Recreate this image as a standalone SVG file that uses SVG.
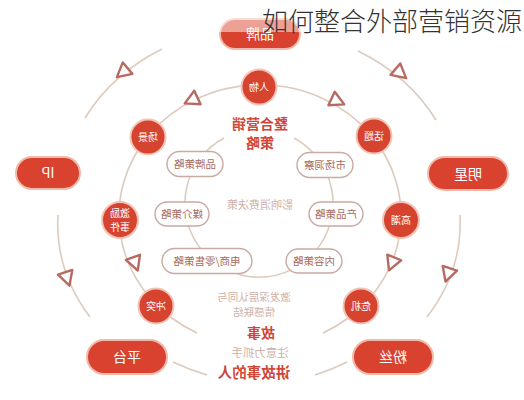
<svg xmlns="http://www.w3.org/2000/svg" width="524" height="400" viewBox="0 0 524 400">
<defs>
<style>
.ring{fill:none;stroke:#ddcbbd;stroke-width:1.6}
.tri{fill:#fff;stroke:#b66a60;stroke-width:2.4;stroke-linejoin:round}
.pill{fill:#d9422f;stroke:#f1b9aa;stroke-width:2}
.dot{fill:#d6432f;stroke:#f2c3b6;stroke-width:2}
.box{fill:#fff;stroke:#c8aaa3;stroke-width:1.4}
text{font-family:"Noto Sans CJK SC","Noto Sans",sans-serif;text-anchor:middle}
.pt{fill:#fff;font-size:14px}
.dt{fill:#fff;font-size:10px}
.bt{fill:#a86a60;font-size:10.5px}
.rt{fill:#d0473a;font-weight:bold}
.gt{fill:#cfb0a8}
.title{fill:#333;font-size:26px;font-weight:300;text-anchor:start}
</style>
<path id="tri" d="M8,0 L-6,-7.5 L-6,7.5 Z"/>
</defs>
<rect width="524" height="400" fill="#fff"/>
<g id="connectors">
<path class="ring" d="M162,49 A201,172 0 0,0 85,118"/>
<path class="ring" d="M358,51 A201,172 0 0,1 436,120"/>
<path class="ring" d="M58,215 A201,172 0 0,0 90,317"/>
<path class="ring" d="M460,215 A201,172 0 0,1 427,317"/>
<path class="ring" d="M173,362 A201,172 0 0,0 207,375"/>
<path class="ring" d="M315,375 A201,172 0 0,0 347,362"/>
<path class="ring" d="M197,333 A141,131 0 1,1 323,333"/>
<path class="ring" d="M224,138 A74,74 0 1,0 294,138"/>
<use href="#tri" class="tri" transform="translate(123,72) rotate(140)"/>
<use href="#tri" class="tri" transform="translate(400,73) rotate(40)"/>
<use href="#tri" class="tri" transform="translate(67,278) rotate(72)"/>
<use href="#tri" class="tri" transform="translate(448,274) rotate(108)"/>
<use href="#tri" class="tri" transform="translate(192,100) rotate(155)"/>
<use href="#tri" class="tri" transform="translate(337,101) rotate(25)"/>
<use href="#tri" class="tri" transform="translate(135,263) rotate(70)"/>
<use href="#tri" class="tri" transform="translate(392,263) rotate(112)"/>
</g>
<g id="center">
<text class="rt" font-size="14" transform="translate(260,129) scale(-1,1)">整合营销</text>
<text class="rt" font-size="14" transform="translate(260,148) scale(-1,1)">策略</text>
<text class="gt" font-size="11" transform="translate(260,209) scale(-1,1)">影响消费决策</text>
</g>
<g id="box-pinpai"><rect class="box" x="167" y="151.5" width="56" height="25" rx="12.5"/><text class="bt" transform="translate(195,168) scale(-1,1)">品牌策略</text></g>
<g id="box-shichang"><rect class="box" x="297" y="152.5" width="56" height="25" rx="12.5"/><text class="bt" transform="translate(325,169) scale(-1,1)">市场洞察</text></g>
<g id="box-meijie"><rect class="box" x="155" y="202" width="54" height="24" rx="12"/><text class="bt" transform="translate(182,218) scale(-1,1)">媒介策略</text></g>
<g id="box-chanpin"><rect class="box" x="309" y="202" width="54" height="24" rx="12"/><text class="bt" transform="translate(336,218) scale(-1,1)">产品策略</text></g>
<g id="box-dianshang"><rect class="box" x="162" y="248.5" width="90" height="25" rx="12.5"/><text class="bt" transform="translate(207,265) scale(-1,1)">电商/零售策略</text></g>
<g id="box-neirong"><rect class="box" x="286" y="249" width="56" height="24" rx="12"/><text class="bt" transform="translate(314,265) scale(-1,1)">内容策略</text></g>
<g id="dot-renwu"><circle class="dot" cx="259" cy="87" r="17.5"/><text class="dt" transform="translate(259,90.5) scale(-1,1)">人物</text></g>
<g id="dot-changjing"><circle class="dot" cx="148" cy="137" r="17.5"/><text class="dt" transform="translate(148,140.5) scale(-1,1)">场景</text></g>
<g id="dot-huati"><circle class="dot" cx="374" cy="136" r="17.5"/><text class="dt" transform="translate(374,139.5) scale(-1,1)">话题</text></g>
<g id="dot-jili"><circle class="dot" cx="120" cy="220" r="18"/><text class="dt" font-size="9" transform="translate(120,217) scale(-1,1)">激励</text><text class="dt" font-size="9" transform="translate(120,231) scale(-1,1)">事件</text></g>
<g id="dot-gaochao"><circle class="dot" cx="401" cy="220" r="18"/><text class="dt" transform="translate(401,223.5) scale(-1,1)">高潮</text></g>
<g id="dot-chongtu"><circle class="dot" cx="156" cy="306" r="17.5"/><text class="dt" transform="translate(156,309.5) scale(-1,1)">冲突</text></g>
<g id="dot-weiji"><circle class="dot" cx="361" cy="306" r="17.5"/><text class="dt" transform="translate(361,309.5) scale(-1,1)">危机</text></g>
<g id="pill-pinpai"><rect class="pill" x="220" y="19" width="80" height="30" rx="15"/><text class="pt" transform="translate(260,39) scale(-1,1)">品牌</text></g>
<g id="pill-ip"><rect class="pill" x="16" y="157" width="64" height="32" rx="16"/><text class="pt" transform="translate(48,178) scale(-1,1)">IP</text></g>
<g id="pill-mingxing"><rect class="pill" x="428" y="157" width="80" height="33" rx="16.5"/><text class="pt" transform="translate(468,178.5) scale(-1,1)">明星</text></g>
<g id="pill-pingtai"><rect class="pill" x="87" y="340" width="80" height="34" rx="17"/><text class="pt" transform="translate(127,362) scale(-1,1)">平台</text></g>
<g id="pill-fensi"><rect class="pill" x="353" y="340" width="80" height="34" rx="17"/><text class="pt" transform="translate(393,362) scale(-1,1)">粉丝</text></g>
<g id="story">
<text class="gt" font-size="10.5" transform="translate(254,300.5) scale(-1,1)">激发深层认同与</text>
<text class="gt" font-size="10.5" transform="translate(254,315.5) scale(-1,1)">情感联结</text>
<text class="rt" font-size="14" transform="translate(261,338) scale(-1,1)">故事</text>
<text class="gt" font-size="11.5" transform="translate(260,357) scale(-1,1)">注意力抓手</text>
<text class="rt" font-size="14.5" transform="translate(254,378) scale(-1,1)">讲故事的人</text>
</g>
<rect x="0" y="0" width="524" height="32" fill="#fff" opacity="0.5"/>
<text class="title" x="262" y="31">如何整合外部营销资源</text>
</svg>
